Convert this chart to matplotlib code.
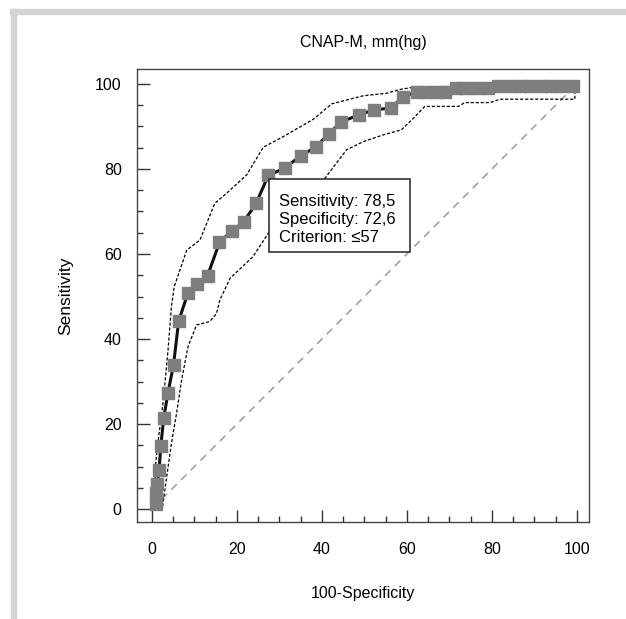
import matplotlib
matplotlib.use("Agg")
import matplotlib.pyplot as plt
from matplotlib.patches import Rectangle

plt.rcParams['font.family'] = ['Liberation Sans', 'DejaVu Sans']

# ROC points (100-Specificity, Sensitivity)
roc_x = [0.9, 0.9, 1.3, 1.7, 2.1, 2.8, 3.8, 5.1, 6.3, 8.5, 10.6, 13.1, 15.9, 18.8,
         21.6, 24.6, 27.4, 31.3, 35.0, 38.5, 41.6, 44.6, 48.7, 52.2, 56.2, 59.1,
         62.3, 64.5, 66.8, 69.0, 71.5, 74.0, 76.5, 79.0, 81.5, 84.0, 86.5, 89.0,
         91.5, 94.0, 96.5, 99.0]
roc_y = [1.3, 3.7, 6.0, 9.2, 14.9, 21.5, 27.4, 34.0, 44.2, 50.9, 52.9, 54.9, 62.7,
         65.4, 67.5, 72.1, 78.5, 80.2, 83.1, 85.1, 88.2, 91.1, 92.7, 93.9, 94.3,
         96.9, 98.2, 98.2, 98.2, 98.2, 99.0, 99.0, 99.0, 99.0, 99.6, 99.6, 99.6,
         99.6, 99.6, 99.6, 99.6, 99.6]

# 95% confidence bounds
upper_x = [0.6, 0.8, 1.5, 2.7, 3.8, 4.6, 5.25, 8.2, 11.3, 14.8, 17.6, 22.3, 26.2,
           30.9, 38.0, 42.3, 49.7, 55.2, 58.4, 61.5, 70.0, 80.0, 99.0]
upper_y = [1.0, 9.9, 16.2, 25.6, 37.4, 47.6, 52.3, 60.9, 63.3, 71.9, 74.3, 78.6,
           85.1, 87.6, 91.7, 95.3, 97.2, 97.8, 98.7, 99.2, 99.4, 99.7, 99.8]
lower_x = [1.6, 2.5, 3.6, 4.6, 5.8, 7.0, 8.5, 10.5, 13.6, 15.2, 16.0, 18.4, 23.8,
           27.4, 31.6, 40.7, 45.8, 49.7, 54.4, 58.7, 61.5, 64.2, 72.1, 73.6, 79.5,
           81.9, 99.5, 99.5]
lower_y = [0.0, 0.5, 8.4, 15.5, 22.5, 30.4, 38.2, 43.3, 44.1, 46.0, 49.2, 54.3,
           59.4, 64.9, 69.6, 77.8, 84.5, 86.4, 88.0, 89.2, 91.9, 94.7, 94.7, 95.6,
           95.6, 96.4, 96.4, 98.2]

title = "CNAP-M, mm(hg)"
box_lines = ["Sensitivity: 78,5", "Specificity: 72,6", "Criterion: \u226457"]

fig = plt.figure(figsize=(6.26, 6.19), dpi=100)

# page border bits (light gray)
fig.patches.append(Rectangle((10 / 626, 1 - 14 / 619), 1.0, 5 / 619,
                             transform=fig.transFigure, color='#d3d3d3', zorder=0))
fig.patches.append(Rectangle((11 / 626, 0), 5 / 626, 1 - 9 / 619,
                             transform=fig.transFigure, color='#d3d3d3', zorder=0))

ax = fig.add_axes([137 / 626, 1 - 522.3 / 619, 452.3 / 626, 453.3 / 619])

ax.plot([0, 100], [0, 100], color='#9a9a9a', lw=1.1, dashes=(5, 4), zorder=1)
ax.plot(upper_x, upper_y, color='black', lw=0.9, dashes=(2.5, 1.5), zorder=2)
ax.plot(lower_x, lower_y, color='black', lw=0.9, dashes=(2.5, 1.5), zorder=2)
ax.plot(roc_x, roc_y, color='#111111', lw=2.2, zorder=3,
        marker='s', ms=8.5, mfc='#7e7e81', mec='#7e7e81')

# criterion box
ax.add_patch(Rectangle((27.6, 60.4), 33.1, 17.2, fc='white', ec='#222222',
                       lw=1.1, zorder=5))
for line, yb in zip(box_lines, [71.3, 67.05, 62.8]):
    ax.text(29.8, yb, line, fontsize=12, va='baseline', ha='left', zorder=6)

ax.set_xlim(-3.5, 102.9)
ax.set_ylim(-3.1, 103.5)
ax.set_xticks(range(0, 101, 20))
ax.set_yticks(range(0, 101, 20))
ax.set_xticks(range(0, 101, 5), minor=True)
ax.set_yticks(range(0, 101, 5), minor=True)
ax.tick_params(which='major', direction='in', length=9, width=1, color='#333333',
               labelsize=11.5, pad=14)
ax.tick_params(which='minor', direction='in', length=4.5, width=1, color='#333333')
ax.tick_params(axis='y', pad=11)
for s in ax.spines.values():
    s.set_color('#444444')
    s.set_linewidth(1.0)

ax.set_title(title, fontsize=11.5, pad=16)
ax.set_xlabel("100-Specificity", fontsize=11.5, labelpad=21)
ax.set_ylabel("Sensitivity", fontsize=12.5, labelpad=16)

fig.savefig("out.png", dpi=100)
